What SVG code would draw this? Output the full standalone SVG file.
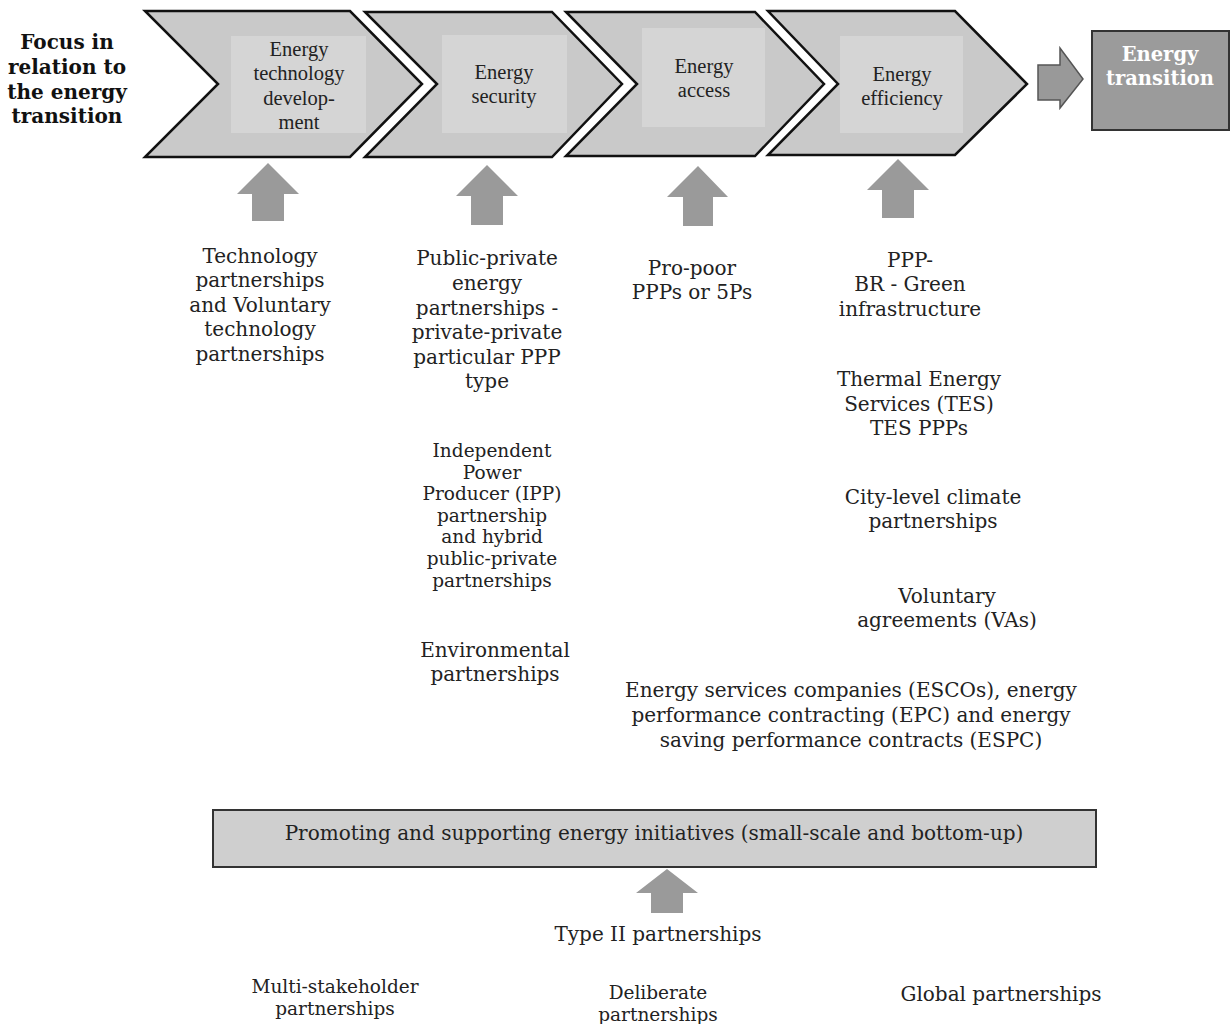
<svg xmlns="http://www.w3.org/2000/svg" width="1230" height="1024" viewBox="0 0 1230 1024">
<style>
.chev{fill:#c9c9c9;stroke:#111;stroke-width:2.5;stroke-linejoin:miter}
.inner{fill:#d5d5d5}
.ct{font-family:"Liberation Serif",serif;font-size:20.5px;fill:#222;text-anchor:middle}
.t{font-family:"DejaVu Serif",serif;font-size:20px;fill:#222;text-anchor:middle}
.s{font-family:"DejaVu Serif",serif;font-size:18.5px;fill:#222;text-anchor:middle}
.b{font-family:"DejaVu Serif",serif;font-size:20px;font-weight:bold;fill:#111;text-anchor:middle}
.bw{font-family:"DejaVu Serif",serif;font-size:19.5px;font-weight:bold;fill:#fff;text-anchor:middle}
.up{fill:#9a9a9a}
</style>
<rect width="1230" height="1024" fill="#fff"/>
<g id="focus-label">
<text class="b" x="67" y="49">Focus in</text>
<text class="b" x="67" y="74">relation to</text>
<text class="b" x="67" y="99">the energy</text>
<text class="b" x="67" y="123">transition</text>
</g>
<g id="chevron-technology">
<polygon class="chev" points="145,11 350,11 422,84 350,157 145,157 218,84"/>
<rect class="inner" x="231" y="36" width="135" height="97"/>
<text class="ct" x="299" y="56">Energy</text>
<text class="ct" x="299" y="80">technology</text>
<text class="ct" x="299" y="105">develop-</text>
<text class="ct" x="299" y="129">ment</text>
</g>
<g id="chevron-security">
<polygon class="chev" points="365,12 552,12 622,84 552,157 365,157 437,84"/>
<rect class="inner" x="442" y="35" width="125" height="98"/>
<text class="ct" x="504" y="79">Energy</text>
<text class="ct" x="504" y="103">security</text>
</g>
<g id="chevron-access">
<polygon class="chev" points="566,12 755,12 824,84 755,156 566,156 637,84"/>
<rect class="inner" x="642" y="28" width="123" height="99"/>
<text class="ct" x="704" y="73">Energy</text>
<text class="ct" x="704" y="97">access</text>
</g>
<g id="chevron-efficiency">
<polygon class="chev" points="768,11 955,11 1027,84 955,155 768,155 838,84"/>
<rect class="inner" x="840" y="36" width="123" height="97"/>
<text class="ct" x="902" y="81">Energy</text>
<text class="ct" x="902" y="105">efficiency</text>
</g>
<g id="energy-transition">
<rect x="1092" y="31" width="137" height="99" fill="#9b9b9b" stroke="#333" stroke-width="2"/>
<text class="bw" x="1160" y="61">Energy</text>
<text class="bw" x="1160" y="85">transition</text>
</g>
<g id="promoting-box">
<rect x="213" y="810" width="883" height="57" fill="#cfcfcf" stroke="#333" stroke-width="2"/>
<text class="t" x="654" y="840">Promoting and supporting energy initiatives (small-scale and bottom-up)</text>
</g>
<g id="col1-text">
<text class="t" x="260" y="263">Technology</text>
<text class="t" x="260" y="287">partnerships</text>
<text class="t" x="260" y="312">and Voluntary</text>
<text class="t" x="260" y="336">technology</text>
<text class="t" x="260" y="361">partnerships</text>
</g>
<g id="col2-text">
<text class="t" x="487" y="265">Public-private</text>
<text class="t" x="487" y="290">energy</text>
<text class="t" x="487" y="315">partnerships -</text>
<text class="t" x="487" y="339">private-private</text>
<text class="t" x="487" y="364">particular PPP</text>
<text class="t" x="487" y="388">type</text>
</g>
<g id="ipp-text">
<text class="s" x="492" y="457">Independent</text>
<text class="s" x="492" y="479">Power</text>
<text class="s" x="492" y="500">Producer (IPP)</text>
<text class="s" x="492" y="522">partnership</text>
<text class="s" x="492" y="543">and hybrid</text>
<text class="s" x="492" y="565">public-private</text>
<text class="s" x="492" y="587">partnerships</text>
</g>
<g id="env-text">
<text class="t" x="495" y="657">Environmental</text>
<text class="t" x="495" y="681">partnerships</text>
</g>
<g id="col3-text">
<text class="t" x="692" y="275">Pro-poor</text>
<text class="t" x="692" y="299">PPPs or 5Ps</text>
</g>
<g id="col4-text">
<text class="t" x="910" y="267">PPP-</text>
<text class="t" x="910" y="291">BR - Green</text>
<text class="t" x="910" y="316">infrastructure</text>
</g>
<g id="tes-text">
<text class="t" x="919" y="386">Thermal Energy</text>
<text class="t" x="919" y="411">Services (TES)</text>
<text class="t" x="919" y="435">TES PPPs</text>
</g>
<g id="city-text">
<text class="t" x="933" y="504">City-level climate</text>
<text class="t" x="933" y="528">partnerships</text>
</g>
<g id="va-text">
<text class="t" x="947" y="603">Voluntary</text>
<text class="t" x="947" y="627">agreements (VAs)</text>
</g>
<g id="esco-text">
<text class="t" x="851" y="697">Energy services companies (ESCOs), energy</text>
<text class="t" x="851" y="722">performance contracting (EPC) and energy</text>
<text class="t" x="851" y="747">saving performance contracts (ESPC)</text>
</g>
<g id="type2-text">
<text class="t" x="658" y="941">Type II partnerships</text>
</g>
<g id="multi-text">
<text class="s" x="335" y="993">Multi-stakeholder</text>
<text class="s" x="335" y="1015">partnerships</text>
</g>
<g id="deliberate-text">
<text class="s" x="658" y="999">Deliberate</text>
<text class="s" x="658" y="1021">partnerships</text>
</g>
<g id="global-text">
<text class="t" x="1001" y="1001">Global partnerships</text>
</g>
<g id="connectors">
<polygon fill="#999" stroke="#555" stroke-width="1.5" points="1038,65 1060,65 1060,48 1083,79 1060,108 1060,100 1038,100"/>
<polygon class="up" points="268,163 299,194 284,194 284,221 252,221 252,194 237,194"/>
<polygon class="up" points="487,165 518,196 503,196 503,225 471,225 471,196 456,196"/>
<polygon class="up" points="698,166 728,197 713,197 713,226 683,226 683,197 667,197"/>
<polygon class="up" points="898,159 929,190 914,190 914,218 882,218 882,190 867,190"/>
<polygon class="up" points="667,869 698,893 683,893 683,913 651,913 651,893 636,893"/>
</g>
</svg>
